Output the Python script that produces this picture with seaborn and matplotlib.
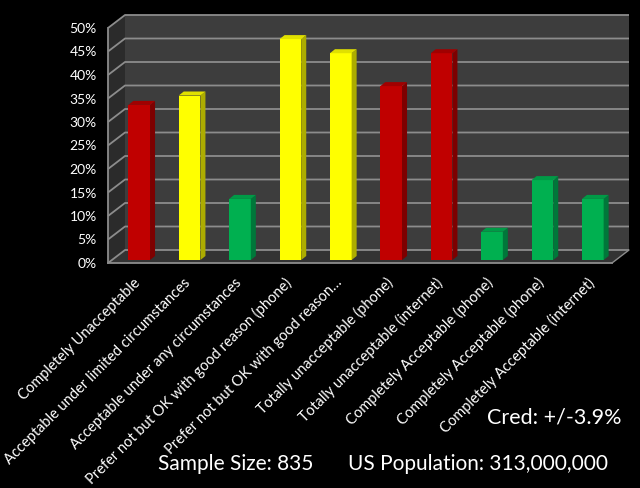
import numpy as np
import pandas as pd
import matplotlib
matplotlib.use('Agg')
import matplotlib.pyplot as plt
import seaborn as sns
from matplotlib.patches import Polygon, Rectangle
from matplotlib.transforms import offset_copy

# data
categories = ['Completely Unacceptable',
              'Acceptable under limited circumstances',
              'Acceptable under any circumstances',
              'Prefer not but OK with good reason (phone)',
              'Prefer not but OK with good reason…',
              'Totally unacceptable (phone)',
              'Totally unacceptable (internet)',
              'Completely Acceptable (phone)',
              'Completely Acceptable (phone)',
              'Completely Acceptable (internet)']
percent = [33, 35, 13, 47, 44, 37, 44, 6, 17, 13]
groups = ['red', 'yellow', 'green', 'yellow', 'yellow', 'red', 'red', 'green', 'green', 'green']
y_ticks = [0, 5, 10, 15, 20, 25, 30, 35, 40, 45, 50]

front_col = {'red': '#C00000', 'yellow': '#FFFF00', 'green': '#00B050'}
side_col = {'red': '#7E0000', 'yellow': '#ACAC00', 'green': '#00773A'}
top_col = {'red': '#A00000', 'yellow': '#E0E000', 'green': '#009A46'}

df = pd.DataFrame({'pos': np.arange(len(categories)), 'percent': percent, 'group': groups})

sns.set_style('dark')
plt.rcParams['font.family'] = ['Lato', 'DejaVu Sans']

fig = plt.figure(figsize=(6.4, 4.88), dpi=100, facecolor='black')
W, H = 640, 488
# axes = front plane of the 3D box, in pixels
ax = fig.add_axes([108 / W, 1 - 263 / H, 504 / W, 235 / H])
ax.set_facecolor('none')

sns.barplot(data=df, x='pos', y='percent', hue='group', palette=front_col,
            width=0.43, saturation=1, dodge=False, legend=False, ax=ax, zorder=3)
bars = sorted([p for p in ax.patches if isinstance(p, Rectangle) and p.get_height() > 0],
              key=lambda r: r.get_x())

ax.set_xlim(-0.5, len(categories) - 0.5)
ax.set_ylim(0, 50)

DX, DY = 17, 13      # depth of the box in pixels
BX, BY = 6, 3        # bar placement inside the box
BDX, BDY = 5, 4      # bar depth

def shift(x, y, dx, dy):
    px, py = ax.transData.transform((x, y))
    return tuple(ax.transData.inverted().transform((px + dx, py + dy)))

x0, x1 = -0.5, len(categories) - 0.5
# walls and floor
left_wall = [(x0, 0), (x0, 50), shift(x0, 50, DX, DY), shift(x0, 0, DX, DY)]
floor = [(x0, 0), (x1, 0), shift(x1, 0, DX, DY), shift(x0, 0, DX, DY)]
back_wall = [shift(x0, 0, DX, DY), shift(x1, 0, DX, DY), shift(x1, 50, DX, DY), shift(x0, 50, DX, DY)]
for pts, c in [(back_wall, '#3d3d3d'), (left_wall, '#2b2b2b'), (floor, '#333333')]:
    ax.add_patch(Polygon(pts, closed=True, facecolor=c, edgecolor='none', clip_on=False, zorder=0))

# gridlines: diagonal on the left wall + horizontal on the back wall
for v in y_ticks:
    a = (x0, v)
    b = shift(x0, v, DX, DY)
    c = shift(x1, v, DX, DY)
    ax.plot([a[0], b[0], c[0]], [a[1], b[1], c[1]], color='#8c8c8c', lw=1.3,
            clip_on=False, zorder=1, solid_capstyle='butt')
r0 = shift(x1, 0, DX, DY)
ax.plot([x1, r0[0]], [0, r0[1]], color='#8c8c8c', lw=1.0, clip_on=False, zorder=1)

# give the bars depth: offset the front face, add side and top faces
bar_tr = offset_copy(ax.transData, fig=fig, x=BX, y=BY, units='dots')
for p, g in zip(bars, groups):
    p.set_transform(bar_tr)
    p.set_edgecolor('none')
    p.set_clip_on(False)
    bx0, bx1 = p.get_x(), p.get_x() + p.get_width()
    h = p.get_height()
    side = [shift(bx1, 0, BX, BY), shift(bx1, h, BX, BY),
            shift(bx1, h, BX + BDX, BY + BDY), shift(bx1, 0, BX + BDX, BY + BDY)]
    top = [shift(bx0, h, BX, BY), shift(bx1, h, BX, BY),
           shift(bx1, h, BX + BDX, BY + BDY), shift(bx0, h, BX + BDX, BY + BDY)]
    ax.add_patch(Polygon(side, closed=True, facecolor=side_col[g], edgecolor='none', clip_on=False, zorder=3))
    ax.add_patch(Polygon(top, closed=True, facecolor=top_col[g], edgecolor='none', clip_on=False, zorder=3))

# axes styling
for s in ['top', 'right']:
    ax.spines[s].set_visible(False)
for s in ['left', 'bottom']:
    ax.spines[s].set_visible(True)
    ax.spines[s].set_color('#8c8c8c')
    ax.spines[s].set_linewidth(1.3)
    ax.spines[s].set_zorder(2)
ax.grid(False)
ax.set_yticks(y_ticks)
ax.set_yticklabels([f'{v}%' for v in y_ticks], color='white', fontsize=10)
ax.set_xticks(np.arange(len(categories) + 1) - 0.5, minor=True)
ax.set_xticks(np.arange(len(categories)))
ax.set_xticklabels(categories, rotation=45, ha='right', rotation_mode='anchor',
                   color='white', fontsize=10.5)
ax.tick_params(axis='x', which='major', length=0, pad=9)
ax.tick_params(axis='x', which='minor', length=5, color='#8c8c8c', width=1.3)
ax.tick_params(axis='y', length=5, color='#8c8c8c', width=1.3, pad=3)
ax.set_xlabel('')
ax.set_ylabel('')

fig.text(487 / W, 1 - 418 / H, 'Cred: +/-3.9%', color='white', fontsize=15.5, va='center', ha='left')
fig.text(158 / W, 1 - 464 / H, 'Sample Size: 835', color='white', fontsize=15, va='center', ha='left')
fig.text(348 / W, 1 - 464 / H, 'US Population: 313,000,000', color='white', fontsize=15, va='center', ha='left')

fig.savefig('out.png', dpi=100, facecolor='black')
